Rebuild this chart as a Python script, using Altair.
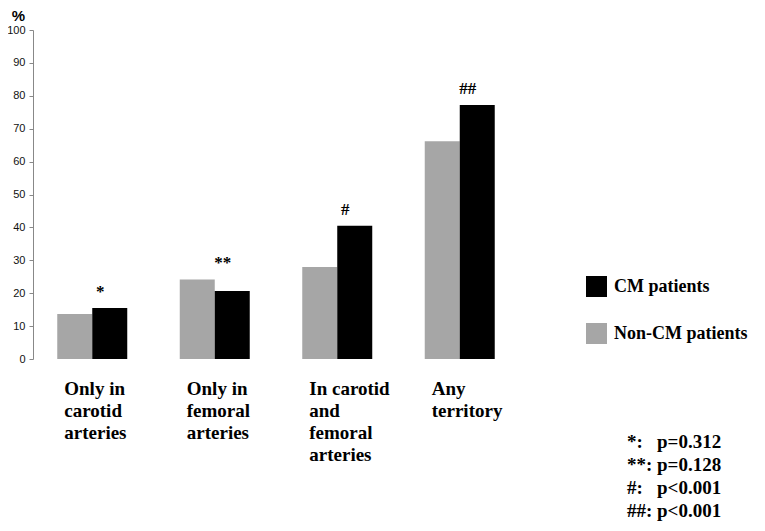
import altair as alt
import pandas as pd

# ---- data ----
categories = ["Only in|carotid|arteries", "Only in|femoral|arteries",
              "In carotid|and|femoral|arteries", "Any|territory"]
groups = ["Non-CM patients", "CM patients"]
legend_order = ["CM patients", "Non-CM patients"]
non_cm = [13.7, 24.2, 28.0, 66.2]
cm = [15.5, 20.7, 40.5, 77.2]
annotations = ["*", "**", "#", "##"]
pval_symbols = ["*:", "**:", "#:", "##:"]
pval_texts = ["p=0.312", "p=0.128", "p<0.001", "p<0.001"]
y_ticks = list(range(0, 101, 10))

rows = []
for c, a, b in zip(categories, non_cm, cm):
    rows.append({"category": c, "group": "Non-CM patients", "value": a})
    rows.append({"category": c, "group": "CM patients", "value": b})
bars_df = pd.DataFrame(rows)
annot_df = pd.DataFrame({"category": categories, "annot": annotations,
                         "value": [max(a, b) for a, b in zip(non_cm, cm)]})
pval_df = pd.DataFrame({"sym": ["\n".join(pval_symbols)], "p": ["\n".join(pval_texts)]})

SERIF = "Liberation Serif"
SANS = "Liberation Sans"

x_axis = alt.Axis(title=None, labelExpr="split(datum.label, '|')", labelAlign="left",
                  labelBaseline="top", labelOffset=-28, labelPadding=20, labelFont=SERIF,
                  labelFontSize=19, labelFontWeight="bold", labelColor="#000",
                  labelLineHeight=22, labelLimit=0, labelOverlap=False, domain=False,
                  ticks=False, labelAngle=0)
x_scale = alt.Scale(paddingInner=0.4286, paddingOuter=0.198)

y_axis = alt.Axis(values=y_ticks, tickCount=11, title="%", titleAngle=0, titleAlign="center",
                  titleBaseline="alphabetic", titleX=-15, titleY=-10, titleFont=SANS,
                  titleFontSize=15, titleFontWeight="bold", titleColor="#000",
                  labelFont=SANS, labelFontSize=11, labelColor="#111",
                  labelPadding=4, tickSize=4, tickColor="#888", labelOverlap=False,
                  domainColor="#888", grid=False)
y_scale = alt.Scale(domain=[0, 100], nice=False)

bars = alt.Chart(bars_df).mark_bar().encode(
    x=alt.X("category:N", sort=categories, scale=x_scale, axis=x_axis),
    xOffset=alt.XOffset("group:N", sort=groups, scale=alt.Scale(paddingInner=0, paddingOuter=0)),
    y=alt.Y("value:Q", scale=y_scale, axis=y_axis),
    color=alt.Color("group:N",
                    scale=alt.Scale(domain=legend_order, range=["#000000", "#a6a6a6"]),
                    legend=alt.Legend(title=None, orient="none", legendX=553, legendY=246,
                                      symbolType="square", symbolSize=441,
                                      symbolStrokeWidth=0, labelFont=SERIF,
                                      labelFontSize=18, labelFontWeight="bold",
                                      labelColor="#000", labelOffset=7, rowPadding=26,
                                      padding=0, labelLimit=0)),
)

annots = alt.Chart(annot_df).mark_text(
    font=SERIF, fontSize=17, fontWeight="bold", dx=8, dy=-11,
    baseline="alphabetic", align="center", color="#000"
).encode(x=alt.X("category:N", sort=categories, scale=x_scale, axis=x_axis),
         y=alt.Y("value:Q", scale=y_scale, axis=y_axis), text="annot:N")

psym = alt.Chart(pval_df).mark_text(
    font=SERIF, fontSize=19, fontWeight="bold", align="left", baseline="alphabetic",
    lineBreak="\n", lineHeight=23, color="#000"
).encode(x=alt.value(594), y=alt.value(418), text="sym:N")

pval = alt.Chart(pval_df).mark_text(
    font=SERIF, fontSize=19, fontWeight="bold", align="left", baseline="alphabetic",
    lineBreak="\n", lineHeight=23, color="#000"
).encode(x=alt.value(624), y=alt.value(418), text="p:N")

chart = alt.layer(bars, annots, psym, pval).properties(
    width=486, height=329,
    autosize=alt.AutoSizeParams(type="none"),
    padding={"left": 25, "top": 22, "right": 238, "bottom": 164},
).configure_view(stroke=None)

chart.save("out.html", embed_options={"renderer": "svg", "actions": False})
